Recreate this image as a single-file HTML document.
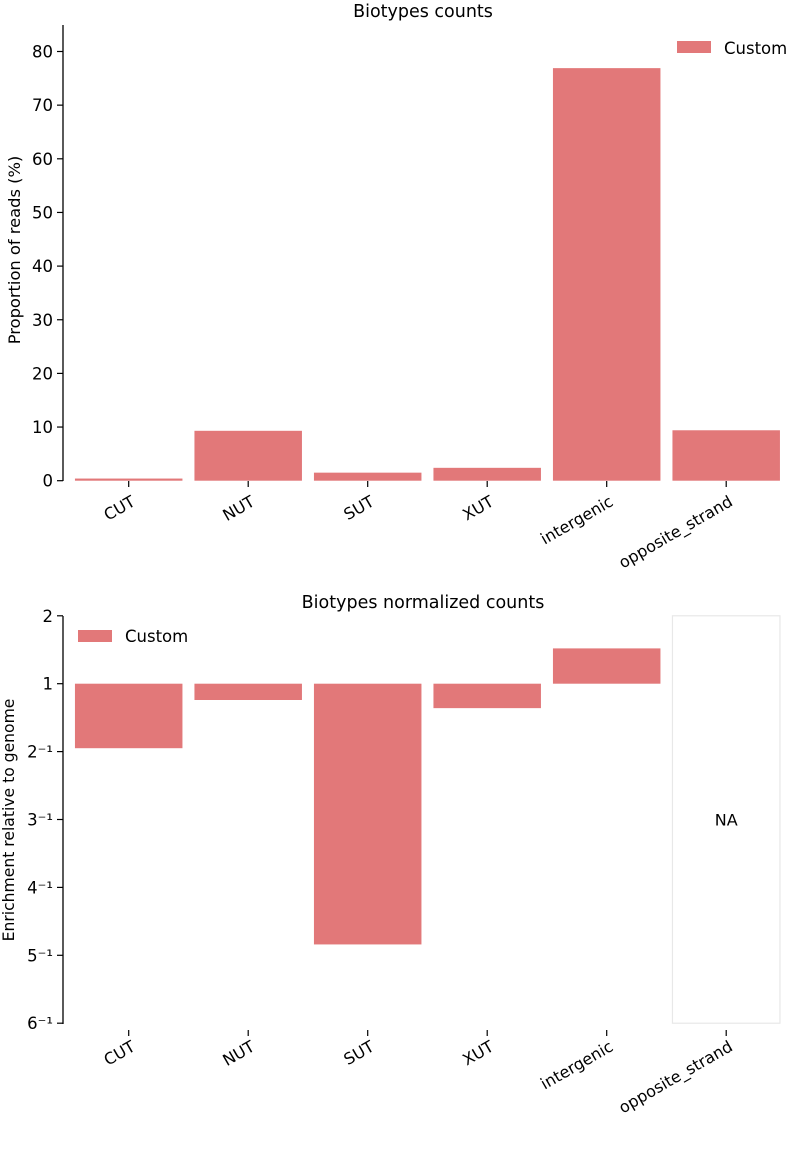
<!DOCTYPE html>
<html><head><meta charset="utf-8"><style>
body{margin:0;background:#fff;}
svg{display:block;font-family:"DejaVu Sans","Liberation Sans",sans-serif;}
</style></head><body>
<svg id="chart" width="787" height="1164" viewBox="0 0 787 1164" xmlns="http://www.w3.org/2000/svg">
<g id="topChart"></g>
<g id="botChart"></g>
</svg>
<script>
const categories = ["CUT","NUT","SUT","XUT","intergenic","opposite_strand"];
const countValues = [0.4, 9.3, 1.5, 2.4, 76.9, 9.4];
const countTicks = [0,10,20,30,40,50,60,70,80];
const normValues = [0.95, 0.24, 3.84, 0.36, -0.52, null];
const normTickLabels = ["2","1","2\u207B\u00B9","3\u207B\u00B9","4\u207B\u00B9","5\u207B\u00B9","6\u207B\u00B9"];
const normTickPos = [-1,0,1,2,3,4,5];

const NS="http://www.w3.org/2000/svg";
const COLOR="#e27879";
const TICKFS=16.5, XLFS=16, TITLEFS=17.5;
function mk(parent,tag,attrs,text){const e=document.createElementNS(NS,tag);for(const k in attrs)e.setAttribute(k,attrs[k]);if(text!==undefined)e.textContent=text;parent.appendChild(e);return e;}
const xBand = i => 128.7 + i*119.5;
const BW = 107.5;

// TOP chart
const gTop = document.getElementById('topChart');
const yTop = v => 480.7 - v*5.365;
let t = mk(gTop,'text',{x:423,y:17,'text-anchor':'middle','font-size':TITLEFS},'Biotypes counts');


let ax = mk(gTop,'line',{x1:63,y1:25,x2:63,y2:481,stroke:'#000','stroke-width':1.3});


countTicks.forEach(v=>{
  const y=yTop(v);
  const tk=mk(gTop,'line',{x1:57,y1:y,x2:63,y2:y,stroke:'#000','stroke-width':1.2});
  
  
  const lb=mk(gTop,'text',{x:53,y:y+6,'text-anchor':'end','font-size':TICKFS},String(v));
  
  
});
let yl = mk(gTop,'text',{transform:'translate(20,250) rotate(-90)','text-anchor':'middle','font-size':16.3},'Proportion of reads (%)');


categories.forEach((c,i)=>{
  const cx=xBand(i), v=countValues[i];
  const r=mk(gTop,'rect',{x:cx-BW/2,y:yTop(v),width:BW,height:yTop(0)-yTop(v),fill:COLOR});
  
  
  const tk=mk(gTop,'line',{x1:cx,y1:481,x2:cx,y2:487,stroke:'#000','stroke-width':1.2});
  
  
  const lb=mk(gTop,'text',{transform:`translate(${cx+2},495) rotate(-30)`,'text-anchor':'end','font-size':XLFS,dy:'0.7em'},c);
  
  
});
let lr = mk(gTop,'rect',{x:677,y:41,width:34,height:12,fill:COLOR});


let lt = mk(gTop,'text',{x:724,y:54,'font-size':16.5},'Custom');



// BOTTOM chart
const gBot = document.getElementById('botChart');
const yBot = p => 683.7 + p*67.9;
t = mk(gBot,'text',{x:423,y:608,'text-anchor':'middle','font-size':TITLEFS},'Biotypes normalized counts');


ax = mk(gBot,'line',{x1:63,y1:616,x2:63,y2:1024,stroke:'#000','stroke-width':1.3});


normTickPos.forEach((p,i)=>{
  const y=yBot(p);
  const tk=mk(gBot,'line',{x1:57,y1:y,x2:63,y2:y,stroke:'#000','stroke-width':1.2});
  
  
  const lb=mk(gBot,'text',{x:53,y:y+6,'text-anchor':'end','font-size':TICKFS},normTickLabels[i]);
  
  
});
yl = mk(gBot,'text',{transform:'translate(14,820) rotate(-90)','text-anchor':'middle','font-size':15.6},'Enrichment relative to genome');


categories.forEach((c,i)=>{
  const cx=xBand(i), v=normValues[i];
  if(v===null){
    const r=mk(gBot,'rect',{x:cx-BW/2,y:yBot(-1),width:BW,height:yBot(5)-yBot(-1),fill:'#fff',stroke:'#e8e8e8','stroke-width':1.2});
    
    
    const n=mk(gBot,'text',{x:cx,y:(yBot(-1)+yBot(5))/2+6,'text-anchor':'middle','font-size':16},'NA');
    
    
  } else {
    const y0=Math.min(yBot(0),yBot(v)), h=Math.abs(yBot(v)-yBot(0));
    const r=mk(gBot,'rect',{x:cx-BW/2,y:y0,width:BW,height:h,fill:COLOR});
    
    
  }
  const tk=mk(gBot,'line',{x1:cx,y1:1030,x2:cx,y2:1036,stroke:'#000','stroke-width':1.2});
  
  
  const lb=mk(gBot,'text',{transform:`translate(${cx+2},1040) rotate(-30)`,'text-anchor':'end','font-size':XLFS,dy:'0.7em'},c);
  
  
});
lr = mk(gBot,'rect',{x:78,y:630,width:34,height:12,fill:COLOR});


lt = mk(gBot,'text',{x:125,y:642,'font-size':16.5},'Custom');


</script>
</body></html>
